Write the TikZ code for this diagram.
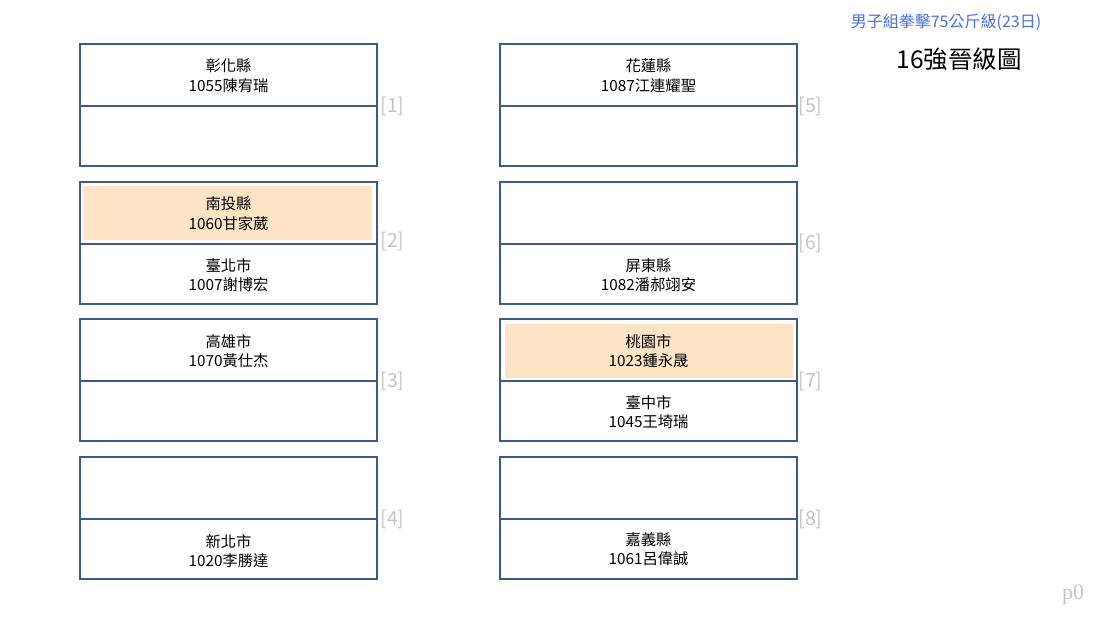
\documentclass[tikz,border=0pt]{standalone}
\usepackage{fontspec}
\setmainfont{Noto Sans CJK TC}
\newfontfamily\serifp{Liberation Serif}
\definecolor{boxline}{HTML}{3A5A8C}
\definecolor{winfill}{HTML}{FDE4C4}
\definecolor{labgray}{HTML}{C4C4C4}
\definecolor{titleblue}{HTML}{4A6FE0}
\tikzset{
  boxedge/.style={draw=boxline, line width=1.6pt},
  ptext/.style={font=\fontsize{15.3}{19.5}\selectfont, align=center, text=black},
  lab/.style={font=\fontsize{19.5}{21}\selectfont, text=labgray, anchor=west}
}
\begin{document}
\begin{tikzpicture}[x=1pt,y=-1pt]
\useasboundingbox (0,0) rectangle (1103,618);
% highlight fills
\fill[winfill] (83,186) rectangle (372,240);
\fill[winfill] (505,324) rectangle (793,378);
% left column boxes
\foreach \n/\y in {1/44,2/182,3/319,4/457}{
  \draw[boxedge] (80,\y) rectangle (377,\y+122);
  \draw[boxedge] (80,\y+62) -- (377,\y+62);
}
\foreach \n/\y in {5/44,6/182,7/319,8/457}{
  \draw[boxedge] (500,\y) rectangle (797,\y+122);
  \draw[boxedge] (500,\y+62) -- (797,\y+62);
}
% player texts
\node[ptext] (p1) at (228.5,75.5) {彰化縣\\1055陳宥瑞};
\node[ptext] (p3) at (228.5,213.5) {南投縣\\1060甘家葳};
\node[ptext] (p4) at (228.5,275) {臺北市\\1007謝博宏};
\node[ptext] (p5) at (228.5,351) {高雄市\\1070黃仕杰};
\node[ptext] (p8) at (228.5,551) {新北市\\1020李勝達};
\node[ptext] (p9) at (648.5,75.5) {花蓮縣\\1087江連耀聖};
\node[ptext] (p12) at (648.5,275) {屏東縣\\1082潘郝翊安};
\node[ptext] (p13) at (648.5,351) {桃園市\\1023鍾永晟};
\node[ptext] (p14) at (648.5,412) {臺中市\\1045王埼瑞};
\node[ptext] (p16) at (648.5,549) {嘉義縣\\1061呂偉誠};
% match labels
\node[lab] (m1) at (377,106) {[1]};
\node[lab] (m2) at (377,241) {[2]};
\node[lab] (m3) at (377,381) {[3]};
\node[lab] (m4) at (377,519) {[4]};
\node[lab] (m5) at (795,106) {[5]};
\node[lab] (m6) at (795,243) {[6]};
\node[lab] (m7) at (795,381) {[7]};
\node[lab] (m8) at (795,519) {[8]};
% titles
\node[font=\fontsize{16}{18}\selectfont, text=titleblue] (t1) at (946,22) {男子組拳擊75公斤級(23日)};
\node[font=\fontsize{24.5}{28}\selectfont, text=black] (t2) at (959,59) {16強晉級圖};
\node[font=\serifp\fontsize{22}{24}\selectfont, text=labgray] (pg) at (1073,595) {p0};
\end{tikzpicture}
\end{document}
